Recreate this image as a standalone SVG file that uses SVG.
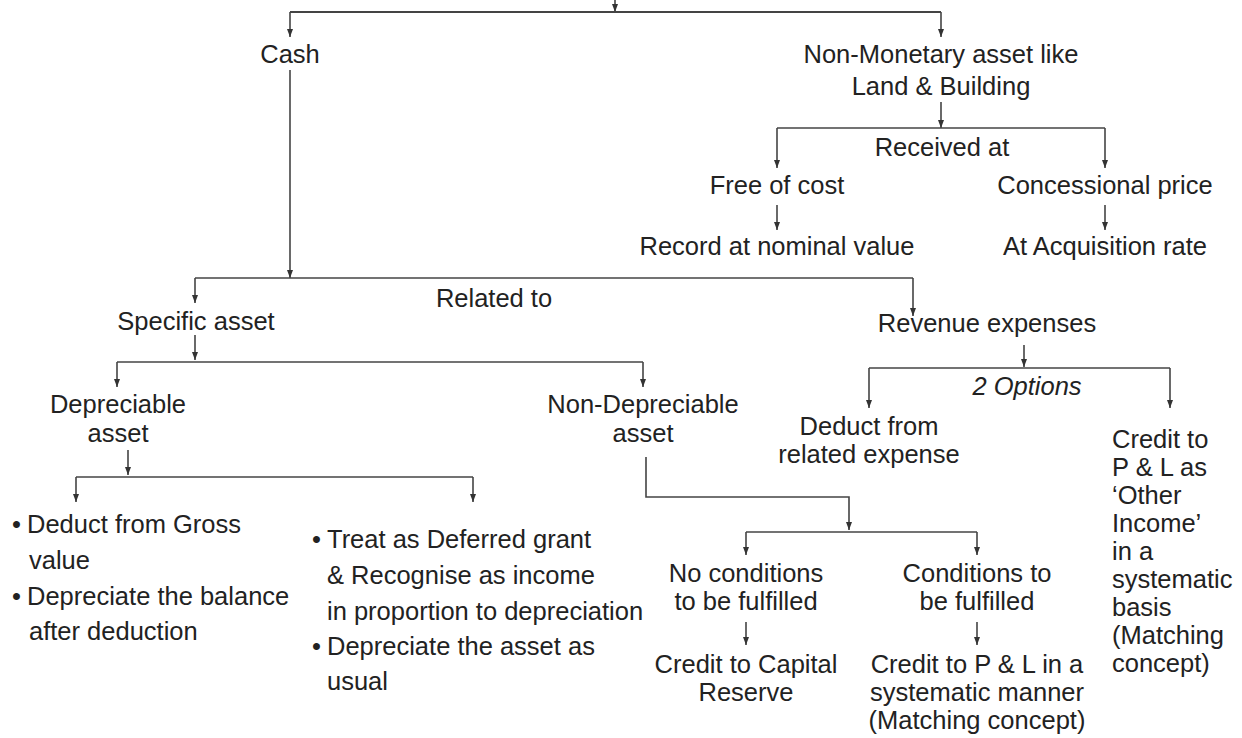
<svg xmlns="http://www.w3.org/2000/svg" width="1242" height="738" viewBox="0 0 1242 738">
<defs>
<marker id="ah" markerUnits="userSpaceOnUse" markerWidth="8" markerHeight="8" viewBox="0 0 8 8" refX="8" refY="4" orient="auto">
<path d="M0,1 L8,4 L0,7 z" fill="#333"/>
</marker>
<style>
text{font-family:"Liberation Sans",Arial,sans-serif;font-size:25.5px;fill:#222}
.c{text-anchor:middle}
.i{font-style:italic}
.ln{fill:none;stroke:#444;stroke-width:1.6}
.ar{fill:none;stroke:#444;stroke-width:1.6;marker-end:url(#ah)}
</style>
</defs>
<rect width="1242" height="738" fill="#fff"/>
<g id="connectors">
<path class="ar" d="M615,0 V12"/>
<path class="ln" d="M290,12 H941" style="stroke-width:2"/>
<path class="ar" d="M290,12 V37"/>
<path class="ar" d="M941,12 V37"/>
<path class="ar" d="M290,70 V278"/>
<path class="ar" d="M941,102 V128"/>
<path class="ln" d="M777,128 H1105"/>
<path class="ar" d="M777,128 V168"/>
<path class="ar" d="M1105,128 V168"/>
<path class="ar" d="M777,205 V230"/>
<path class="ar" d="M1105,205 V230"/>
<path class="ln" d="M195,278 H913"/>
<path class="ar" d="M195,278 V303"/>
<path class="ar" d="M913,278 V316"/>
<path class="ar" d="M195,335 V360"/>
<path class="ln" d="M117,362 H643"/>
<path class="ar" d="M117,362 V387"/>
<path class="ar" d="M643,362 V387"/>
<path class="ar" d="M1024,345 V367"/>
<path class="ln" d="M869,368 H1170"/>
<path class="ar" d="M869,368 V408"/>
<path class="ar" d="M1170,368 V408"/>
<path class="ar" d="M128,450 V475"/>
<path class="ln" d="M76,477 H473"/>
<path class="ar" d="M76,477 V502"/>
<path class="ar" d="M473,477 V502"/>
<path class="ar" d="M646,457 V497 H849 V530"/>
<path class="ln" d="M746,532 H977"/>
<path class="ar" d="M746,532 V555"/>
<path class="ar" d="M977,532 V555"/>
<path class="ar" d="M746,622 V645"/>
<path class="ar" d="M977,622 V645"/>
</g>
<g id="cash"><text class="c" x="290" y="63">Cash</text></g>
<g id="nonmonetary"><text class="c" x="941" y="63">Non-Monetary asset like</text><text class="c" x="941" y="95">Land &amp; Building</text></g>
<g id="received"><text class="c" x="942" y="156">Received at</text></g>
<g id="free"><text class="c" x="777" y="194">Free of cost</text></g>
<g id="concessional"><text class="c" x="1105" y="194">Concessional price</text></g>
<g id="nominal"><text class="c" x="777" y="255">Record at nominal value</text></g>
<g id="acquisition"><text class="c" x="1105" y="255">At Acquisition rate</text></g>
<g id="related"><text class="c" x="494" y="307">Related to</text></g>
<g id="specific"><text class="c" x="196" y="330">Specific asset</text></g>
<g id="revenue"><text class="c" x="987" y="332">Revenue expenses</text></g>
<g id="options"><text class="c i" x="1027" y="395">2 Options</text></g>
<g id="depreciable"><text class="c" x="118" y="413">Depreciable</text><text class="c" x="118" y="442">asset</text></g>
<g id="nondepreciable"><text class="c" x="643" y="413">Non-Depreciable</text><text class="c" x="643" y="442">asset</text></g>
<g id="deduct-expense"><text class="c" x="869" y="435">Deduct from</text><text class="c" x="869" y="463">related expense</text></g>
<g id="credit-other">
<text x="1112" y="448">Credit to</text>
<text x="1112" y="476">P &amp; L as</text>
<text x="1112" y="504">‘Other</text>
<text x="1112" y="532">Income’</text>
<text x="1112" y="560">in a</text>
<text x="1112" y="588">systematic</text>
<text x="1112" y="616">basis</text>
<text x="1112" y="644">(Matching</text>
<text x="1112" y="672">concept)</text>
</g>
<g id="deduct-gross">
<text y="533"><tspan x="12">•</tspan><tspan x="27">Deduct from Gross</tspan></text>
<text x="29" y="569">value</text>
<text y="605"><tspan x="12">•</tspan><tspan x="27">Depreciate the balance</tspan></text>
<text x="29" y="640">after deduction</text>
</g>
<g id="deferred">
<text y="548"><tspan x="312">•</tspan><tspan x="327">Treat as Deferred grant</tspan></text>
<text x="327" y="584">&amp; Recognise as income</text>
<text x="327" y="620">in proportion to depreciation</text>
<text y="655"><tspan x="312">•</tspan><tspan x="327">Depreciate the asset as</tspan></text>
<text x="327" y="690">usual</text>
</g>
<g id="noconditions"><text class="c" x="746" y="582">No conditions</text><text class="c" x="746" y="610">to be fulfilled</text></g>
<g id="conditions"><text class="c" x="977" y="582">Conditions to</text><text class="c" x="977" y="610">be fulfilled</text></g>
<g id="capital"><text class="c" x="746" y="673">Credit to Capital</text><text class="c" x="746" y="701">Reserve</text></g>
<g id="credit-pl"><text class="c" x="977" y="673">Credit to P &amp; L in a</text><text class="c" x="977" y="701">systematic manner</text><text class="c" x="977" y="729">(Matching concept)</text></g>
</svg>
